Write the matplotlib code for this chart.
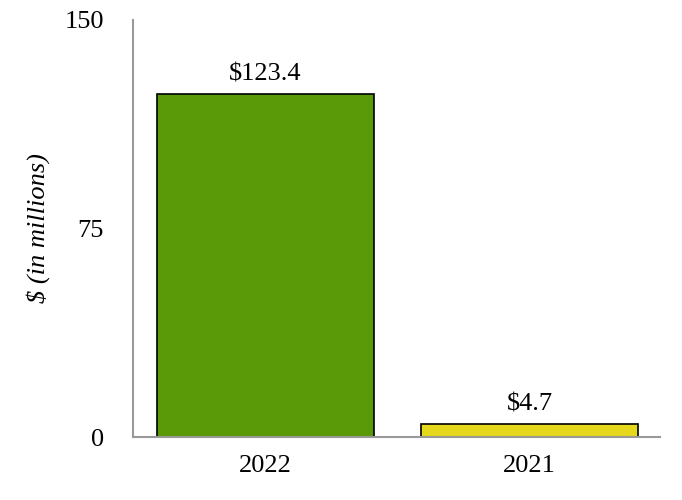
import matplotlib.pyplot as plt
import numpy as np

years = ["2022", "2021"]
values = [123.4, 4.7]
labels = ["$123.4", "$4.7"]
colors = ["#5a9a08", "#e6d81c"]

plt.rcParams['font.family'] = ['Liberation Serif', 'DejaVu Serif']

fig = plt.figure(figsize=(6.82, 5.0), dpi=100)
ax = fig.add_axes([0.195, 0.126, 0.773, 0.834])

x = np.arange(len(years))
rects = ax.bar(x, values, width=0.82, color=colors, edgecolor="black", linewidth=1.2)
ax.bar_label(rects, labels=labels, padding=6, fontsize=19)

ax.set_xlim(-0.502, 1.494)
ax.set_ylim(0, 150)
ax.set_yticks([0, 75, 150])
ax.set_xticks(x, years)
ax.tick_params(axis="both", length=0, labelsize=19)
ax.tick_params(axis="y", pad=21)
ax.tick_params(axis="x", pad=13)

ax.set_ylabel("$ (in millions)", fontsize=19, style="italic", labelpad=10)

for side in ["top", "right"]:
    ax.spines[side].set_visible(False)
for side in ["left", "bottom"]:
    ax.spines[side].set_color("#999999")
    ax.spines[side].set_linewidth(1.5)

fig.savefig("out.png", dpi=100)
